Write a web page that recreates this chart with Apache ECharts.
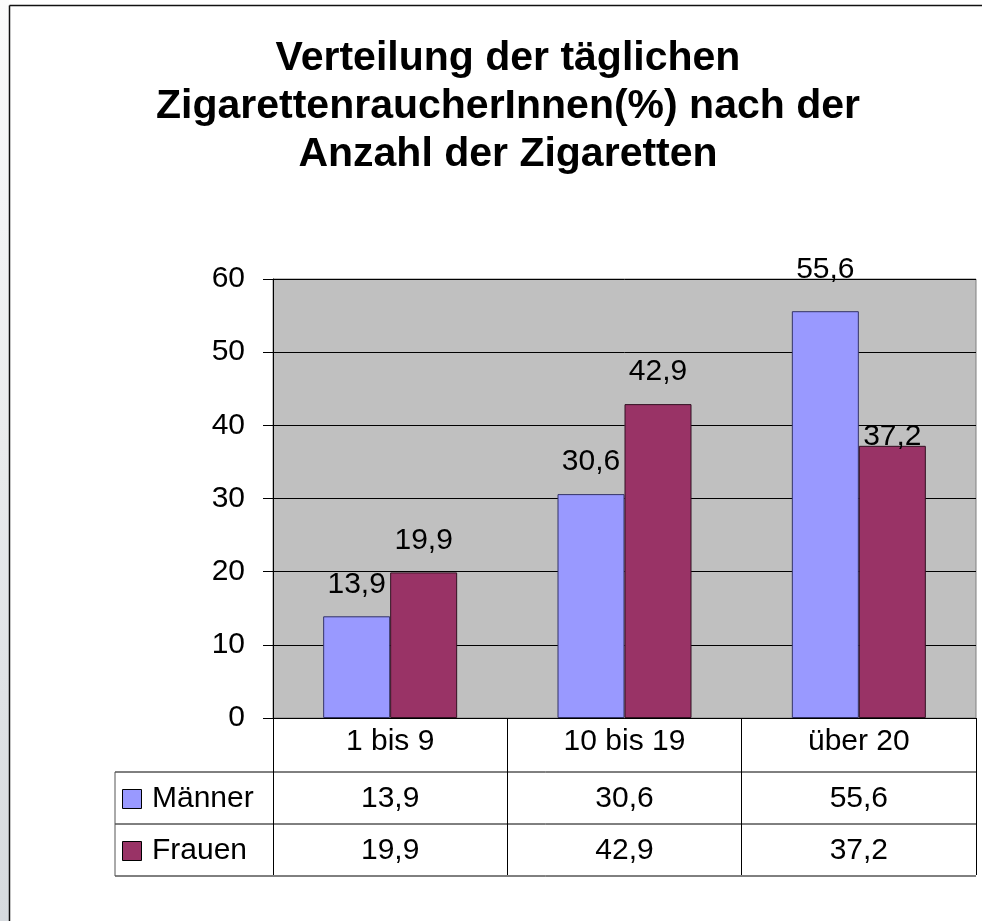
<!DOCTYPE html>
<html>
<head>
<meta charset="utf-8">
<script src="https://cdn.jsdelivr.net/npm/echarts@6/dist/echarts.min.js"></script>
<style>
html, body { margin: 0; padding: 0; background: #fff; }
#chart { width: 982px; height: 921px; }
</style>
</head>
<body>
<div id="chart"></div>
<script>
var categories = ['1 bis 9', '10 bis 19', 'über 20'];
var seriesNames = ['Männer', 'Frauen'];
var maenner = [13.9, 30.6, 55.6];
var frauen = [19.9, 42.9, 37.2];

var FONT = '"Liberation Sans", Arial, sans-serif';
var COLORS = ['#9999ff', '#993366'];
var BORDERS = ['#333366', '#331122'];
// label distance above each bar (the original nudges a couple of them)
var LABEL_DIST = [[17, 17, 26], [17, 17, -6]];
var grid = { left: 273, top: 279, right: 6, bottom: 203 };
var W = 982, H = 921;
var axisY = H - grid.bottom;      // y of the category axis
var catRowH = 54, rowH = 52;
var tableLeft = 115;

function fmt(v) { return String(v).replace('.', ','); }

function barSeries(k, vals) {
  return {
    name: seriesNames[k], type: 'bar',
    data: vals.map(function (v, i) {
      return { value: v, label: { distance: LABEL_DIST[k][i] } };
    }),
    barWidth: 67, barGap: '0%',
    itemStyle: { color: COLORS[k], borderColor: BORDERS[k], borderWidth: 1 },
    label: { show: true, position: 'top', formatter: function (p) { return fmt(p.value); },
      fontFamily: FONT, fontSize: 30, color: '#000' }
  };
}

var chart = echarts.init(document.getElementById('chart'));

var option = {
  backgroundColor: '#fff',
  animation: false,
  title: {
    text: 'Verteilung der täglichen\nZigarettenraucherInnen(%) nach der\nAnzahl der Zigaretten',
    left: 508, top: 35, padding: 0,
    textAlign: 'center',
    textStyle: { fontFamily: FONT, fontSize: 41, fontWeight: 'bold', color: '#000', lineHeight: 48 }
  },
  grid: {
    left: grid.left, top: grid.top, right: grid.right, bottom: grid.bottom,
    show: true, backgroundColor: '#c0c0c0', borderColor: '#808080', borderWidth: 1
  },
  xAxis: {
    type: 'category', data: categories,
    axisLine: { lineStyle: { color: '#000', width: 1 } },
    axisTick: { show: true, length: catRowH + 2 * rowH - 1, lineStyle: { color: '#000' } },
    axisLabel: { margin: 9, fontFamily: FONT, fontSize: 30, color: '#000' }
  },
  yAxis: {
    type: 'value', min: 0, max: 60, interval: 10,
    axisLine: { show: true, lineStyle: { color: '#000' } },
    axisTick: { show: true, length: 10, lineStyle: { color: '#000' } },
    axisLabel: { margin: 28, fontFamily: FONT, fontSize: 30, color: '#000' },
    splitLine: { lineStyle: { color: '#000', width: 1 } }
  },
  series: [barSeries(0, maenner), barSeries(1, frauen)]
};
chart.setOption(option);

// data table below the axis, with its legend column
var right = W - grid.right;
var rowsY = [axisY + catRowH, axisY + catRowH + rowH, axisY + catRowH + 2 * rowH];
var g = [];
g.push({ type: 'rect', shape: { x: 0, y: 0, width: 9, height: H }, silent: true,
  style: { fill: new echarts.graphic.LinearGradient(0, 0, 0, 1, [{ offset: 0, color: '#fbfbfb' }, { offset: 1, color: '#d6dade' }]) } });
g.push({ type: 'line', shape: { x1: 9.5, y1: 5.5, x2: W, y2: 5.5 }, silent: true, style: { stroke: '#111', lineWidth: 1.5 } });
g.push({ type: 'line', shape: { x1: 9.5, y1: 5.5, x2: 9.5, y2: H }, silent: true, style: { stroke: '#111', lineWidth: 1.5 } });
rowsY.forEach(function (y) {
  g.push({ type: 'line', shape: { x1: tableLeft, y1: y, x2: right, y2: y }, silent: true,
    style: { stroke: '#000', lineWidth: 1 } });
});
g.push({ type: 'line', shape: { x1: tableLeft, y1: rowsY[0], x2: tableLeft, y2: rowsY[2] }, silent: true,
  style: { stroke: '#555', lineWidth: 1 } });
[maenner, frauen].forEach(function (vals, r) {
  var cy = rowsY[r] + rowH / 2 + 1;
  g.push({ type: 'rect', shape: { x: 122.5, y: cy - 9.5, width: 19, height: 19 }, silent: true,
    style: { fill: COLORS[r], stroke: '#000', lineWidth: 1 } });
  g.push({ type: 'text', x: 152, y: cy, silent: true,
    style: { text: seriesNames[r], align: 'left', verticalAlign: 'middle', fontFamily: FONT, fontSize: 30, fill: '#000' } });
  vals.forEach(function (v, i) {
    var x = chart.convertToPixel({ xAxisIndex: 0 }, i);
    g.push({ type: 'text', x: x, y: cy, silent: true,
      style: { text: fmt(v), align: 'center', verticalAlign: 'middle', fontFamily: FONT, fontSize: 30, fill: '#000' } });
  });
});
chart.setOption({ graphic: g });
</script>
</body>
</html>
